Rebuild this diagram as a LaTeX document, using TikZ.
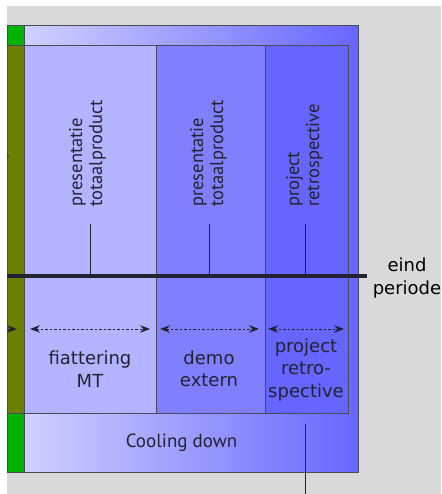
\documentclass[tikz,border=0pt]{standalone}
\usepackage{fontspec}
\setmainfont{DejaVu Sans}
\newfontfamily\slimfont{PT Sans}
\usepackage{xcolor}
\usetikzlibrary{arrows.meta}

\definecolor{bggray}{HTML}{D9D9D9}
\definecolor{kickgreen}{HTML}{00B300}
\definecolor{olive}{HTML}{6B8000}
\definecolor{lilac}{HTML}{D0D0FF}
\definecolor{blueA}{HTML}{B3B3FF}
\definecolor{blueB}{HTML}{8080FF}
\definecolor{blueC}{HTML}{6666FF}
\definecolor{framegray}{HTML}{4A4A5A}
\definecolor{inkgray}{HTML}{222233}

\begin{document}
\begin{tikzpicture}[x=1pt, y=-1pt]
      \tikzstyle{box} = [draw=framegray, line width=1pt]
      \tikzstyle{span} = [{Stealth[length=10pt,width=7.5pt]}-{Stealth[length=10pt,width=7.5pt]}, line width=1pt, dash pattern=on 2.5pt off 2pt, draw=inkgray]
      \tikzstyle{tick} = [draw=inkgray, line width=1pt]
      \tikzstyle{phase} = [align=center, text=inkgray, inner sep=0pt, font=\fontsize{18}{22.5}\selectfont]
      \tikzstyle{moment} = [rotate=90, anchor=west, align=left, inner sep=0pt, text=inkgray, font=\slimfont\fontsize{18.5}{20}\selectfont]

      \useasboundingbox (0,0) rectangle (441,494);
      \fill[white] (0,0) rectangle (441,494);
      \fill[bggray] (7,6) rectangle (441,494);

      % outer frame with gradient
      \shade[left color=lilac, right color=blueC] (24,26) rectangle (358,472);
      \draw[box] (7,26) rectangle (358,472);

      % left strip
      \fill[kickgreen] (7,26) rectangle (24,46);
      \fill[olive] (7,46) rectangle (24,413);
      \fill[kickgreen] (7,413) rectangle (24,472);
      \draw[box] (7,26) rectangle (24,472);
      \draw[box] (7,46) -- (24,46);
      \draw[box] (7,413) -- (24,413);

      % phase columns
      \draw[box, fill=blueA] (24,46) rectangle (156,413);
      \draw[box, fill=blueB] (156,46) rectangle (265,413);
      \draw[box, fill=blueC] (265,46) rectangle (348,413);

      % moments
      \node[moment] (m1) at (87.5,207) {presentatie\\totaalproduct};
      \node[moment] (m2) at (208.5,207) {presentatie\\totaalproduct};
      \node[moment] (m3) at (304.5,207) {project\\retrospective};

      \coordinate (t1) at (90,224);
      \coordinate (t2) at (209,224);
      \coordinate (t3) at (305,224);
      \coordinate (b1) at (90,276);
      \coordinate (b2) at (209,276);
      \coordinate (b3) at (305,276);
      \draw[tick] (t1) -- (b1);
      \draw[tick] (t2) -- (b2);
      \draw[tick] (t3) -- (b3);

      % end of period
      \coordinate (e0) at (7,276);
      \coordinate (e1) at (367,276);
      \draw[draw=inkgray, line width=4pt] (e0) -- (e1);
      \node[phase, text=black] (eind) at (407,278) {eind\\periode};

      % spans
      \coordinate (l0) at (7,329);  \coordinate (l1) at (17,329);
      \coordinate (s1) at (30,329); \coordinate (s2) at (150,329);
      \coordinate (s3) at (160,329); \coordinate (s4) at (259,329);
      \coordinate (s5) at (268,329); \coordinate (s6) at (344,329);
      \draw[span, -{Stealth[length=10pt,width=7.5pt]}] (l0) -- (l1);
      \draw[span] (s1) -- (s2);
      \draw[span] (s3) -- (s4);
      \draw[span] (s5) -- (s6);
      \coordinate (k0) at (7,157); \coordinate (k1) at (9,157);
      \draw[tick] (k0) -- (k1);

      \node[phase] (p1) at (90,369) {fiattering\\MT};
      \node[phase] (p2) at (209,369) {demo\\extern};
      \node[phase] (p3) at (306,370) {project\\retro-\\spective};

      % cooling down
      \node[text=inkgray, font=\slimfont\fontsize{19}{22}\selectfont] (cool) at (181.5,443) {Cooling down};
      \coordinate (c0) at (305,424);
      \coordinate (c1) at (305,494);
      \draw[tick] (c0) -- (c1);
\end{tikzpicture}
\end{document}
